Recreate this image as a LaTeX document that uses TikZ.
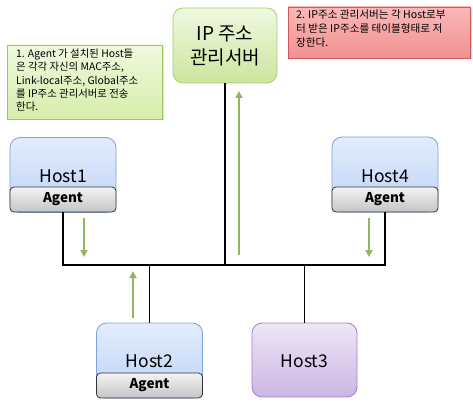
\documentclass[tikz,border=0pt]{standalone}
\usepackage{fontspec}
\setmainfont{Noto Sans CJK KR}
\usetikzlibrary{arrows.meta,shadows}
\definecolor{hostT}{HTML}{E3ECFC}
\definecolor{hostB}{HTML}{BDD3F7}
\definecolor{hostD}{HTML}{7EA3D8}
\definecolor{agT}{HTML}{F4F4F4}
\definecolor{agB}{HTML}{C4C4C4}
\definecolor{puT}{HTML}{EEE6F6}
\definecolor{puB}{HTML}{CDB5E4}
\definecolor{puD}{HTML}{A082C4}
\definecolor{svT}{HTML}{F0F8E0}
\definecolor{svB}{HTML}{CCE59E}
\definecolor{svD}{HTML}{A9CE72}
\definecolor{n1T}{HTML}{F1F9DF}
\definecolor{n1B}{HTML}{D6EDAA}
\definecolor{n1D}{HTML}{9CC75E}
\definecolor{n2T}{HTML}{FBB8B8}
\definecolor{n2B}{HTML}{F19090}
\definecolor{n2D}{HTML}{D25858}
\definecolor{arr}{HTML}{93B75C}
\begin{document}
\begin{tikzpicture}[x=1pt,y=-1pt,
  hostbox/.style={draw=hostD, line width=0.8pt, rounded corners=10pt, top color=hostT, bottom color=hostB, minimum width=106pt, minimum height=75pt, inner sep=0pt},
  purplebox/.style={draw=puD, line width=0.8pt, rounded corners=10pt, top color=puT, bottom color=puB, minimum width=105pt, minimum height=74pt, inner sep=0pt},
  agentbox/.style={draw=black!80, line width=0.8pt, rounded corners=4pt, top color=agT, bottom color=agB, minimum width=106pt, minimum height=25pt, inner sep=0pt, font=\fontsize{13.5}{14}\selectfont\bfseries},
  hostlabel/.style={font=\fontsize{17.5}{19}\selectfont, inner sep=0pt},
  serverbox/.style={draw=svD, line width=0.8pt, rounded corners=10pt, top color=svT, bottom color=svB, minimum width=104pt, minimum height=75pt, inner sep=0pt, align=center, font=\fontsize{19}{24}\selectfont},
  note1/.style={draw=n1D, line width=0.8pt, top color=n1T, bottom color=n1B, minimum width=155pt, minimum height=74pt, inner sep=0pt, drop shadow={opacity=0.25, shadow xshift=1.5pt, shadow yshift=-1.5pt}},
  note2/.style={draw=n2D, line width=0.8pt, top color=n2T, bottom color=n2B, minimum width=182pt, minimum height=51pt, inner sep=0pt, drop shadow={opacity=0.3, shadow xshift=1.5pt, shadow yshift=-1.5pt}},
  notetext/.style={align=left, anchor=north west, inner sep=0pt},
  wire/.style={line width=1.8pt, black},
  flow/.style={line width=2.4pt, arr, -{Triangle[width=7pt,length=7pt]}}
]
\useasboundingbox (0,0) rectangle (473,403);

% notes
\node[note1] (n1) at (84.5,82) {};
\node[notetext, font=\fontsize{10.4}{13.2}\selectfont] (n1t) at (16,49) {1. Agent 가 설치된 Host들\\은 각각 자신의 MAC주소,\\Link-local주소, Global주소\\를 IP주소 관리서버로 전송\\한다.};
\node[note2] (n2) at (379,32.5) {};
\node[notetext, font=\fontsize{10.6}{14}\selectfont] (n2t) at (296,10) {2. IP주소 관리서버는 각 Host로부\\터 받은 IP주소를 테이블형태로 저\\장한다.};

% server
\node[serverbox] (server) at (225,45.5) {IP 주소\\관리서버};

% hosts
\node[hostbox] (host1) at (63,175) {};
\node[agentbox] (agent1) at (63,199.5) {Agent};
\node[hostlabel] (l1) at (63,176) {Host1};

\node[hostbox] (host4) at (385,174.5) {};
\node[agentbox] (agent4) at (385,199.5) {Agent};
\node[hostlabel] (l4) at (385,176) {Host4};

\node[hostbox] (host2) at (149.5,360.5) {};
\node[agentbox] (agent2) at (149.5,385.5) {Agent};
\node[hostlabel] (l2) at (149.5,361) {Host2};

\node[purplebox] (host3) at (304.5,360) {};
\node[hostlabel] (l3) at (304.5,361) {Host3};

% wires
\coordinate (b1) at (63,265);
\coordinate (b4) at (385,265);
\draw[wire] (agent1.south) -- (b1) -- (b4) -- (agent4.south);
\draw[wire] (server.south) -- (server.south |- b1);
\draw[wire] (host2.north) -- (host2.north |- b1);
\draw[wire] (host3.north) -- (host3.north |- b1);

% flows
\coordinate (a1s) at (84,218); \coordinate (a1e) at (84,257);
\coordinate (a4s) at (369,218); \coordinate (a4e) at (369,257);
\coordinate (a2s) at (133,318); \coordinate (a2e) at (133,271);
\coordinate (asv) at (239,255); \coordinate (asve) at (239,91);
\draw[flow] (a1s) -- (a1e);
\draw[flow] (a4s) -- (a4e);
\draw[flow] (a2s) -- (a2e);
\draw[flow] (asv) -- (asve);
\end{tikzpicture}
\end{document}
